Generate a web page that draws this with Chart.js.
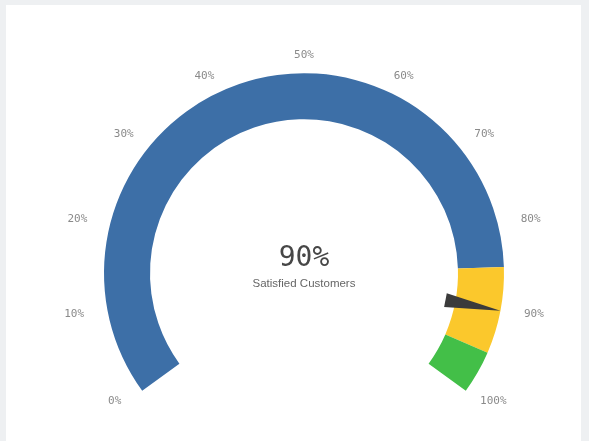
<!DOCTYPE html>
<html>
<head>
<meta charset="utf-8">
<title>Satisfied Customers</title>
<script src="https://cdn.jsdelivr.net/npm/chart.js@4/dist/chart.umd.min.js"></script>
<style>
  html, body { margin: 0; padding: 0; background: #eef0f2; }
  #panel { position: absolute; left: 6px; top: 5px; width: 575px; height: 436px; background: #fff; }
  #gauge { position: absolute; left: 0; top: 0; }
</style>
</head>
<body>
<div id="panel"></div>
<canvas id="gauge" width="589" height="441"></canvas>
<script>
// gauge zones (size of each band, in percent)
const zoneNames = ['Low', 'Medium', 'High'];
const zoneSizes = [85, 10, 5];
const zoneColors = ['#3d6fa7', '#fbc82c', '#43bf48'];

// scale around the dial
const tickValues = [0, 10, 20, 30, 40, 50, 60, 70, 80, 90, 100];
const tickLabels = ['0%', '10%', '20%', '30%', '40%', '50%', '60%', '70%', '80%', '90%', '100%'];

// current reading
const score = 90;
const scoreLabel = '90%';
const caption = 'Satisfied Customers';

// value (0-100) -> canvas angle, using the arcs the doughnut laid out
function valueAngle(chart, v) {
    const arcs = chart.getDatasetMeta(0).data;
    const start = arcs[0].startAngle;
    const end = arcs[arcs.length - 1].endAngle;
    return start + (end - start) * v / 100;
}

const gaugeExtras = {
    id: 'gaugeExtras',
    afterDatasetsDraw(chart) {
        const ctx = chart.ctx;
        const arc = chart.getDatasetMeta(0).data[0];
        const cx = arc.x, cy = arc.y, R = arc.outerRadius;

        // tick labels
        ctx.save();
        ctx.font = "11px 'DejaVu Sans Mono'";
        ctx.fillStyle = '#8a8a8a';
        ctx.textAlign = 'center';
        ctx.textBaseline = 'middle';
        tickValues.forEach((v, i) => {
            const a = valueAngle(chart, v);
            ctx.fillText(tickLabels[i], cx + Math.cos(a) * R * 1.17, cy + Math.sin(a) * R * 1.09);
        });
        ctx.restore();

        // needle
        const a = valueAngle(chart, score);
        const ux = Math.cos(a), uy = Math.sin(a);
        const px = -uy, py = ux;
        const rb = R * 0.72, half = 7;
        ctx.save();
        ctx.fillStyle = '#3b3b3b';
        ctx.beginPath();
        ctx.moveTo(cx + ux * rb + px * half, cy + uy * rb + py * half);
        ctx.lineTo(cx + ux * rb - px * half, cy + uy * rb - py * half);
        ctx.lineTo(cx + ux * R, cy + uy * R);
        ctx.closePath();
        ctx.fill();
        ctx.restore();

        // reading in the middle
        ctx.save();
        ctx.textAlign = 'center';
        ctx.textBaseline = 'middle';
        ctx.fillStyle = '#474747';
        ctx.font = "28px 'DejaVu Sans Mono'";
        ctx.fillText(scoreLabel, cx, cy - 15);
        ctx.fillStyle = '#666666';
        ctx.font = "11.5px 'Liberation Sans'";
        ctx.fillText(caption, cx, cy + 11);
        ctx.restore();
    }
};

const ctx = document.getElementById('gauge').getContext('2d');
const gauge = new Chart(ctx, {
    type: 'doughnut',
    data: {
        labels: zoneNames,
        datasets: [{
            data: zoneSizes,
            backgroundColor: zoneColors,
            borderWidth: 0,
            offset: 0,
            hoverOffset: 0
        }]
    },
    options: {
        responsive: false,
        animation: false,
        events: [],
        rotation: -126,
        circumference: 252,
        cutout: '77%',
        layout: {
            padding: { left: 104, right: 85, top: 73, bottom: 50 }
        },
        plugins: {
            legend: { display: false },
            tooltip: { enabled: false }
        }
    },
    plugins: [gaugeExtras]
});
</script>
</body>
</html>
